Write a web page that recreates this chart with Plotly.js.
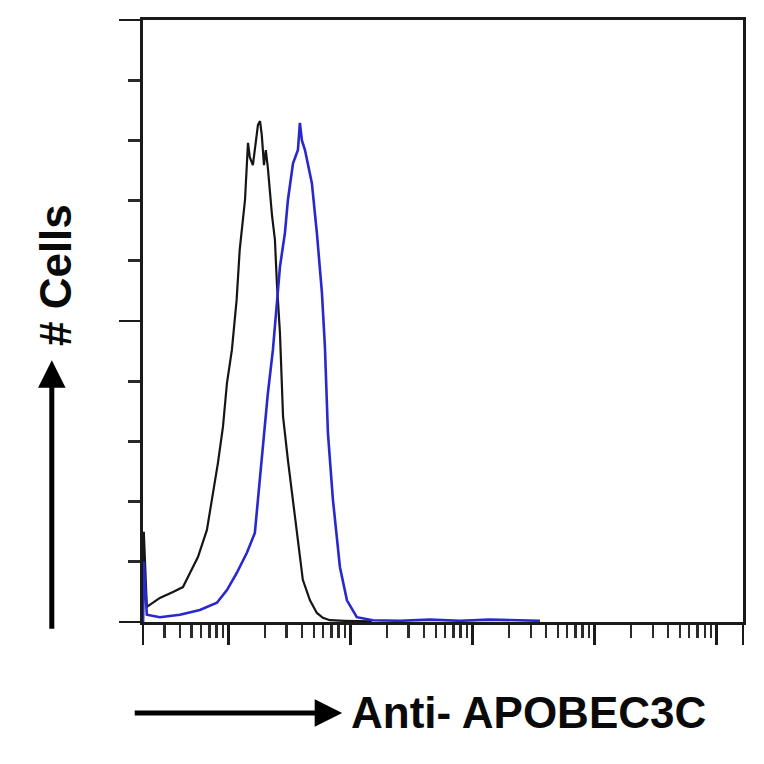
<!DOCTYPE html>
<html>
<head>
<meta charset="utf-8">
<script src="https://cdn.plot.ly/plotly-3.0.1.min.js"></script>
<style>
  html, body { margin: 0; padding: 0; background: #fff; }
  #chart { width: 764px; height: 764px; }
</style>
</head>
<body>
<div id="chart"></div>
<script>
/* ---------------------------------------------------------------- */
/* DATA                                     */
/* ---------------------------------------------------------------- */
// isotype control (black)
var controlX = [2.0, 2.03, 2.15, 2.75, 3.52, 4.25, 4.84, 5.64, 6.68, 7.35, 8.22, 9.04, 9.75,
  10.7, 11.7, 12.4, 13.7, 14.5, 15.0, 15.9, 16.8, 17.5, 18.2, 18.8, 19.6, 20.3, 21.1,
  22.8, 24.1, 25.0, 26.5, 28.1, 30.8, 33.9, 37.2, 40.8, 46.7, 53.2, 59.6, 68.1, 90, 150];
var controlY = [0, 15.0, 2.5, 4.0, 5.0, 5.8, 8.1, 10.8, 15.3, 20.3, 26.4, 32.4, 39.7,
  45.2, 53.5, 61.8, 70.1, 79.6, 77.2, 75.9, 80.1, 82.6, 83.2, 80.9, 75.9, 78.4, 75.4,
  67.6, 63.5, 56.3, 48.0, 34.1, 26.9, 20.3, 13.1, 7.0, 3.6, 1.5, 0.7, 0.3, 0.2, 0.1];

// Anti-APOBEC3C stained (blue)
var stainX = [2.0, 2.03, 2.15, 2.75, 4.01, 5.85, 8.07, 9.75, 11.7, 14.2, 16.5, 17.5, 19.2,
  21.1, 23.2, 25.0, 26.5, 29.1, 30.8, 33.9, 37.2, 38.6, 40.1, 42.5, 48.4, 53.2, 58.5,
  61.9, 65.5, 72.0, 82.2, 93.8, 113, 153, 255, 449, 791, 1390, 2455, 3580];
var stainY = [0, 10.0, 1.2, 0.8, 1.2, 2.0, 3.2, 5.3, 8.1, 11.5, 14.8, 20.3, 28.6,
  38.0, 45.2, 53.5, 59.0, 64.6, 70.1, 76.2, 78.4, 82.9, 80.0, 78.4, 72.9, 64.6, 54.7,
  45.7, 31.4, 20.3, 9.1, 3.6, 0.8, 0.3, 0.2, 0.4, 0.2, 0.4, 0.3, 0.2];

// axis ticks
var xMajor = [2, 10, 100, 1000, 10000, 100000, 165000];
var xMinor = [3, 4, 5, 6, 7, 8, 9,
  20, 30, 40, 50, 60, 70, 80, 90,
  200, 300, 400, 500, 600, 700, 800, 900,
  2000, 3000, 4000, 5000, 6000, 7000, 8000, 9000,
  20000, 30000, 40000, 50000, 60000, 70000, 80000, 90000];
var yMajor = [0, 50, 100];
var yMinor = [10, 20, 30, 40, 60, 70, 80, 90];

var xLabel = 'Anti- APOBEC3C';
var yLabel = '# Cells';

/* ---------------------------------------------------------------- */
/* PLOT                                                              */
/* ---------------------------------------------------------------- */
var traces = [
  {
    x: controlX, y: controlY, type: 'scatter', mode: 'lines',
    line: { color: '#151515', width: 2.2 }, hoverinfo: 'skip'
  },
  {
    x: stainX, y: stainY, type: 'scatter', mode: 'lines',
    line: { color: 'rgb(40,40,205)', width: 2.6 }, hoverinfo: 'skip'
  }
];

var labelFont = { family: 'Liberation Sans, Arial, sans-serif', size: 44, color: '#0a0a0a' };

var layout = {
  width: 764, height: 764,
  margin: { l: 143, r: 21, t: 20, b: 142 },
  paper_bgcolor: '#fff', plot_bgcolor: '#fff',
  showlegend: false,
  xaxis: {
    type: 'log', range: [Math.log10(2), Math.log10(165000)],
    showline: true, linecolor: '#1a1a1a', linewidth: 2.8, mirror: true,
    showgrid: false, zeroline: false, showticklabels: false,
    ticks: 'outside', tickmode: 'array', tickvals: xMajor,
    ticklen: 20, tickwidth: 2.5, tickcolor: '#1a1a1a',
    minor: { ticks: 'outside', tickmode: 'array', tickvals: xMinor,
      ticklen: 13, tickwidth: 2.2, tickcolor: '#2a2a2a', showgrid: false }
  },
  yaxis: {
    range: [0, 100],
    showline: true, linecolor: '#1a1a1a', linewidth: 2.8, mirror: true,
    showgrid: false, zeroline: false, showticklabels: false,
    ticks: 'outside', tickmode: 'array', tickvals: yMajor,
    ticklen: 21, tickwidth: 2.8, tickcolor: '#1a1a1a',
    minor: { ticks: 'outside', tickmode: 'array', tickvals: yMinor,
      ticklen: 12, tickwidth: 2.8, tickcolor: '#2a2a2a', showgrid: false }
  },
  annotations: [
    // x label + arrow
    { xref: 'paper', yref: 'paper', x: 0.343, y: -0.151, xanchor: 'left', yanchor: 'middle',
      text: '<b>' + xLabel + '</b>', showarrow: false, font: labelFont },
    { xref: 'paper', yref: 'paper', x: 0.332, y: -0.151, text: '',
      showarrow: true, arrowhead: 2, arrowsize: 1.1, arrowwidth: 5, arrowcolor: '#000',
      ax: -209, ay: 0, standoff: 0 },
    // y label + arrow
    { xref: 'paper', yref: 'paper', x: -0.147, y: 0.576, xanchor: 'center', yanchor: 'middle',
      text: '<b>' + yLabel + '</b>', textangle: -90, showarrow: false, font: labelFont },
    { xref: 'paper', yref: 'paper', x: -0.152, y: 0.435, text: '',
      showarrow: true, arrowhead: 2, arrowsize: 1.1, arrowwidth: 5, arrowcolor: '#000',
      ax: 0, ay: 270, standoff: 0 }
  ]
};

Plotly.newPlot('chart', traces, layout, { displayModeBar: false, staticPlot: true });
</script>
</body>
</html>
